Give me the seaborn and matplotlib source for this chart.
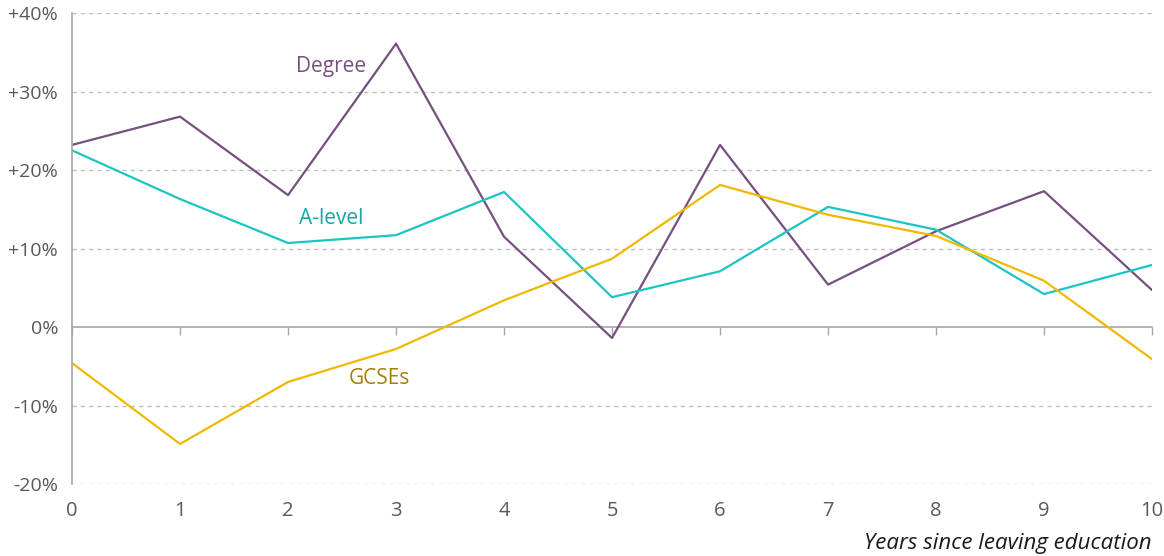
import pandas as pd
import matplotlib.pyplot as plt
import seaborn as sns
from matplotlib.ticker import FuncFormatter

# ---- data ----
years = [0, 1, 2, 3, 4, 5, 6, 7, 8, 9, 10]
degree = [23.2, 26.8, 16.8, 36.1, 11.5, -1.4, 23.2, 5.4, 12.2, 17.3, 4.7]
a_level = [22.5, 16.3, 10.7, 11.7, 17.2, 3.8, 7.1, 15.3, 12.4, 4.2, 7.9]
gcses = [-4.6, -14.9, -7.0, -2.8, 3.4, 8.7, 18.1, 14.3, 11.6, 5.9, -4.1]

series = ['Degree', 'A-level', 'GCSEs']
line_colors = ['#76507e', '#1cc4c4', '#f0b800']
label_colors = ['#76507e', '#17a5a5', '#a47f00']

df = pd.DataFrame({'year': years * 3,
                   'value': degree + a_level + gcses,
                   'series': [s for s in series for _ in years]})

sns.set_style('white')
plt.rcParams['font.family'] = ['Open Sans', 'DejaVu Sans']

fig = plt.figure(figsize=(11.64, 5.56), dpi=100)
ax = fig.add_axes([0.0619, 0.1295, 0.9278, 0.8471])

sns.lineplot(data=df, x='year', y='value', hue='series', hue_order=series,
             palette=line_colors, linewidth=1.6, legend=False, ax=ax)

ax.set_xlim(0, 10)
ax.set_ylim(-20, 40)
ax.set_xticks(years)
ax.set_yticks(range(-20, 41, 10))
ax.yaxis.set_major_formatter(FuncFormatter(lambda v, p: f'+{v:.0f}%' if v > 0 else f'{v:.0f}%'))

# grid
for v in range(-20, 41, 10):
    if v != 0:
        ax.axhline(v, color='#bfbfbf', linestyle=(0, (3, 3)), linewidth=1, zorder=0)

for s in ['top', 'right', 'bottom']:
    ax.spines[s].set_visible(False)
ax.spines['left'].set_color('#a6a6a6')
ax.spines['left'].set_linewidth(1.2)

ax.tick_params(axis='y', length=6, width=1, color='#a6a6a6', labelsize=14, labelcolor='#595959', pad=4)
ax.tick_params(axis='x', length=0, labelsize=14.5, labelcolor='#595959', pad=12)

# zero line with ticks
sec = ax.secondary_xaxis(1 / 3)
sec.set_xticks(years)
sec.tick_params(axis='x', direction='out', length=6, width=1, color='#a6a6a6', labelbottom=False, labeltop=False)
sec.spines['bottom'].set_color('#a6a6a6')
sec.spines['bottom'].set_linewidth(1.2)
sec.spines['top'].set_visible(False)

ax.set_xlabel('Years since leaving education', fontsize=16, style='italic', color='#1a1a1a')
ax.xaxis.set_label_coords(1.0, -0.105)
ax.xaxis.label.set_horizontalalignment('right')
ax.set_ylabel('')

# inline labels
ax.text(2.4, 33.2, 'Degree', color=label_colors[0], fontsize=15, ha='center', va='center')
ax.text(2.4, 13.8, 'A-level', color=label_colors[1], fontsize=15, ha='center', va='center')
ax.text(2.85, -6.6, 'GCSEs', color=label_colors[2], fontsize=15, ha='center', va='center')

fig.savefig('out.png', dpi=100)
